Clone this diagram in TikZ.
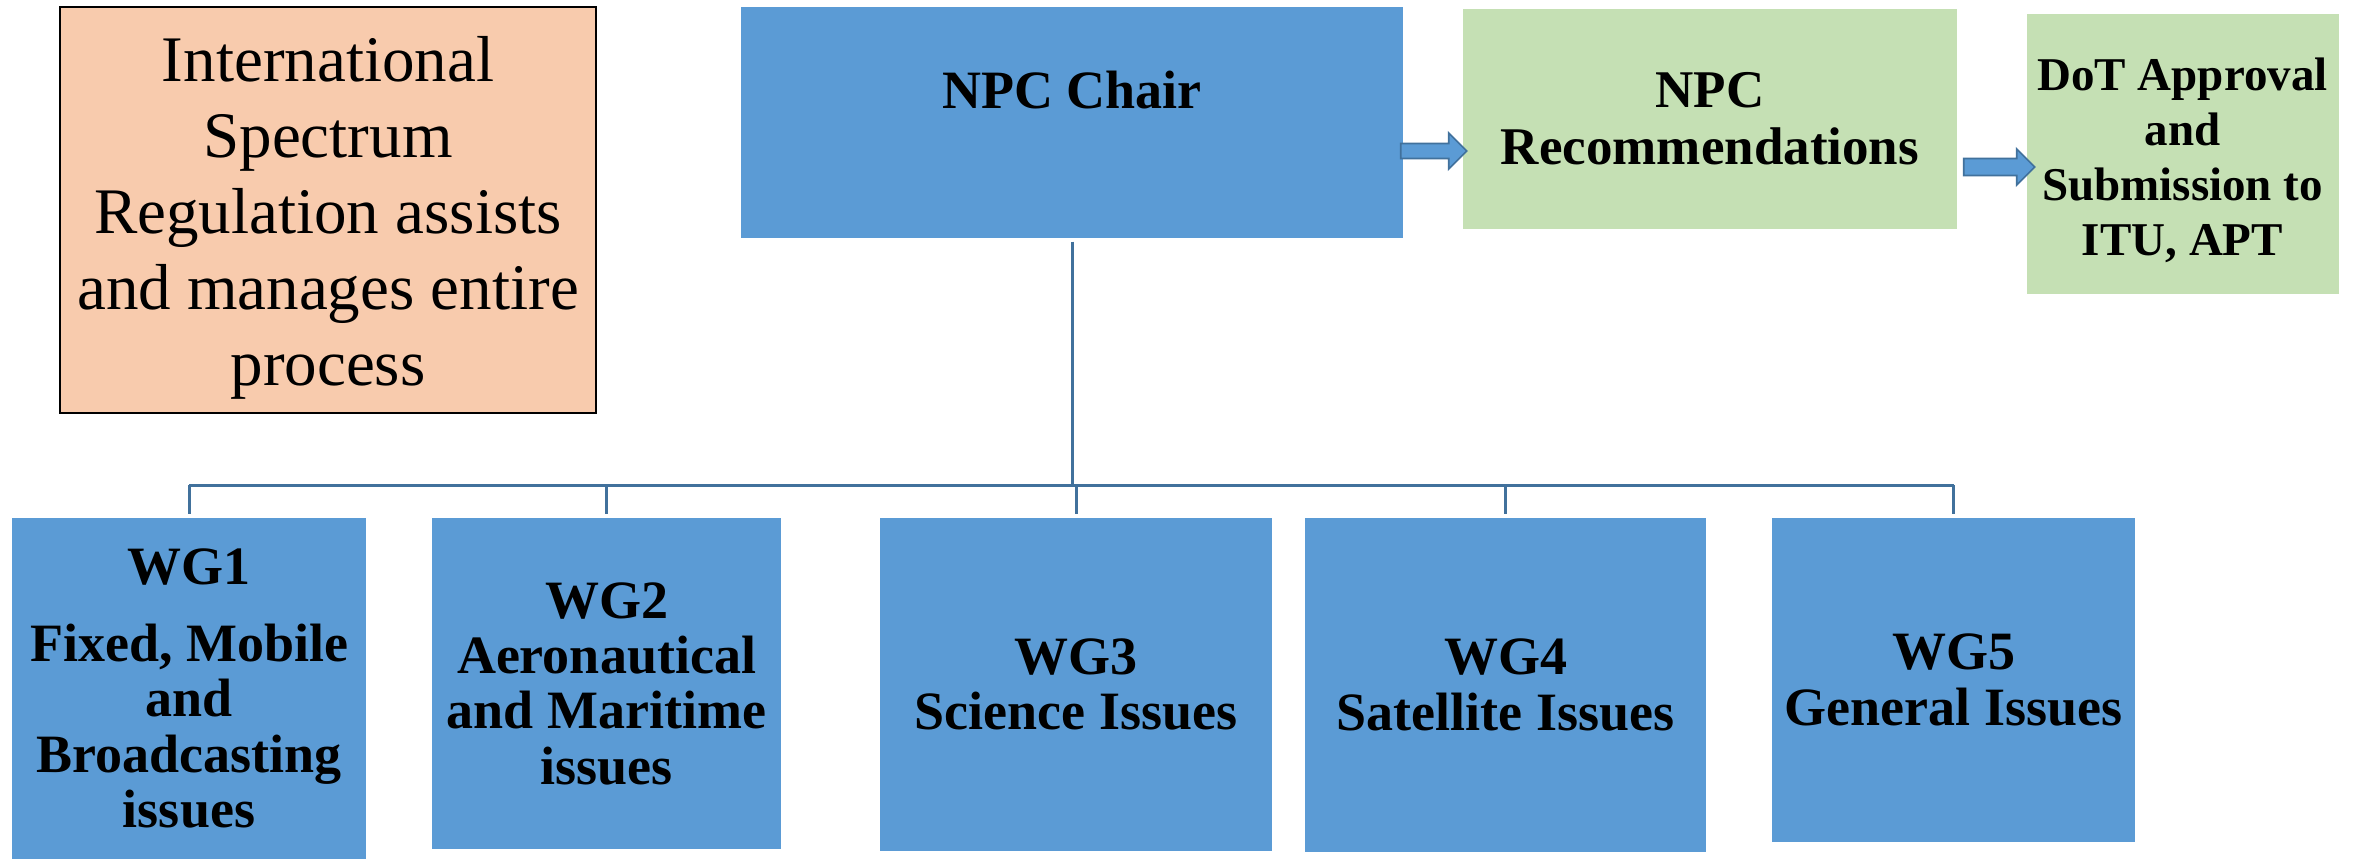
\documentclass[tikz,border=0pt]{standalone}
\usepackage{fontspec}
\setmainfont{Liberation Serif}
\usetikzlibrary{calc}
\definecolor{boxblue}{HTML}{5B9BD5}
\definecolor{boxgreen}{HTML}{C5E0B4}
\definecolor{boxorange}{HTML}{F8CBAD}
\definecolor{linkblue}{HTML}{41719C}
\begin{document}
\begin{tikzpicture}[x=0.3pt,y=-0.3pt,
  box/.style={rectangle, inner sep=0pt, align=center, text=black},
  bluebox/.style={box, fill=boxblue},
  greenbox/.style={box, fill=boxgreen},
  orangebox/.style={box, fill=boxorange, draw=black, line width=0.6pt},
  wgtext/.style={font=\bfseries\fontsize{16.2pt}{16.6pt}\selectfont},
  link/.style={draw=linkblue, line width=0.9pt},
  blockarrow/.style={fill=boxblue, draw=linkblue, line width=0.5pt, line join=miter}
]
\useasboundingbox (0,0) rectangle (2353,859);
\fill[white] (0,0) rectangle (2353,859);

% top row
\node[orangebox, minimum width=160.8pt, minimum height=121.65pt] (isr) at (328,210) {};
\node[box, font=\fontsize{19.5pt}{22.8pt}\selectfont] (isrtxt) at (328,217.5)
  {International\\Spectrum\\Regulation assists\\and manages entire\\process};
\node[bluebox, minimum width=198.6pt, minimum height=69.3pt] (chair) at (1072,122) {};
\node[box, font=\bfseries\fontsize{16.2pt}{17pt}\selectfont] (chairtxt) at (1072,90) {NPC Chair};
\node[greenbox, minimum width=148.2pt, minimum height=66pt,
      font=\bfseries\fontsize{15.9pt}{17.1pt}\selectfont] (rec) at (1710,119)
  {NPC\\Recommendations};
\node[greenbox, minimum width=93.6pt, minimum height=84pt] (dot) at (2182.5,154) {};
\node[box, font=\bfseries\fontsize{14.1pt}{16.5pt}\selectfont] (dottxt) at (2182.5,160.5)
  {DoT Approval\\and\\Submission to\\ITU, APT};

% block arrows
\draw[blockarrow] ($(chair.east)+(-3,21.5)$) -- ++(48,0) -- ++(0,-10.5) -- ++(18,18)
  -- ++(-18,18) -- ++(0,-10.5) -- ++(-48,0) -- cycle;
\draw[blockarrow] ($(rec.east)+(6,39.5)$) -- ++(53,0) -- ++(0,-9.5) -- ++(18,18)
  -- ++(-18,18) -- ++(0,-9.5) -- ++(-53,0) -- cycle;

% working groups
\node[bluebox, wgtext, minimum width=106.2pt, minimum height=102.3pt] (wg1) at (189,688.5)
  {WG1\\[6.5pt]Fixed, Mobile\\and\\Broadcasting\\issues};
\node[bluebox, wgtext, minimum width=104.7pt, minimum height=99.3pt] (wg2) at (606.5,683.5)
  {WG2\\Aeronautical\\and Maritime\\issues};
\node[bluebox, wgtext, minimum width=117.6pt, minimum height=99.9pt] (wg3) at (1076,684.5)
  {WG3\\Science Issues};
\node[bluebox, wgtext, minimum width=120.3pt, minimum height=100.2pt] (wg4) at (1505.5,685)
  {WG4\\Satellite Issues};
\node[bluebox, wgtext, minimum width=108.9pt, minimum height=97.2pt] (wg5) at (1953.5,680)
  {WG5\\General Issues};

% tree connectors
\coordinate (bus) at (0,485);
\draw[link] ([yshift=-1pt]chair.south) -- (chair.south |- bus);
\draw[link] (wg1.north |- bus) -- (wg5.north |- bus);
\draw[link] (wg1.north |- bus) -- ([yshift=1pt]wg1.north);
\draw[link] (wg2.north |- bus) -- ([yshift=1pt]wg2.north);
\draw[link] (wg3.north |- bus) -- ([yshift=1pt]wg3.north);
\draw[link] (wg4.north |- bus) -- ([yshift=1pt]wg4.north);
\draw[link] (wg5.north |- bus) -- ([yshift=1pt]wg5.north);
\end{tikzpicture}
\end{document}
